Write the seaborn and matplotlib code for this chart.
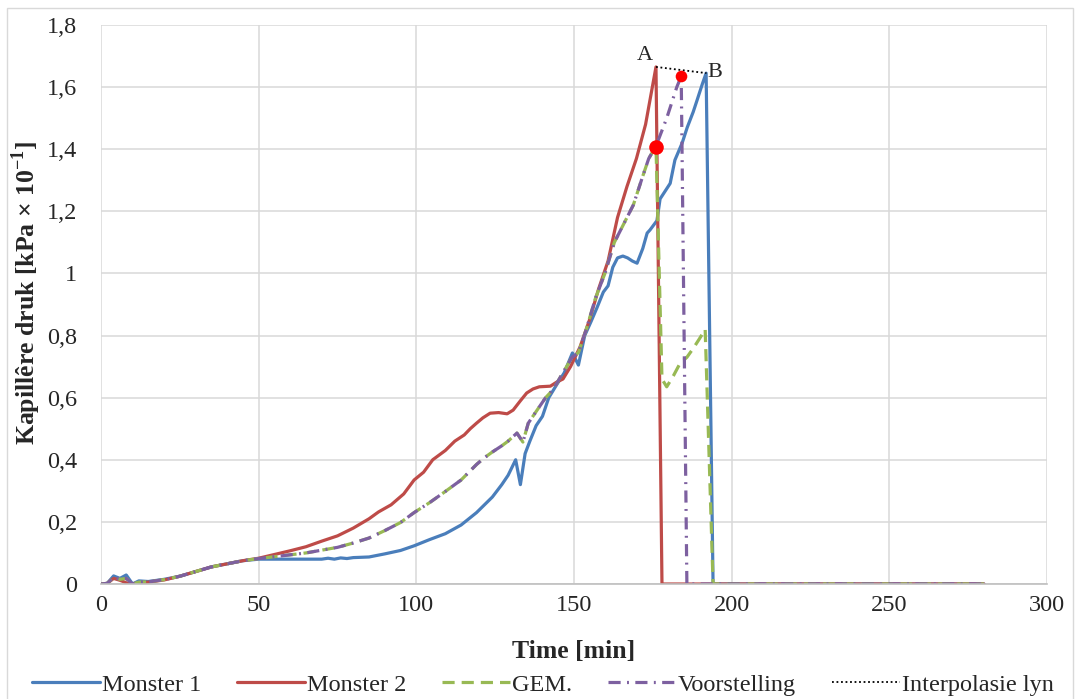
import matplotlib
matplotlib.use("Agg")
import matplotlib.pyplot as plt
import matplotlib.ticker as mticker
from matplotlib.patches import Rectangle
import seaborn as sns
import pandas as pd

# Monster 1 (blue)
t_m1 = [0, 2, 4, 6, 8, 10, 12, 15, 20, 25, 30, 35, 40, 45, 50, 55, 60, 65, 70, 72, 74,
        76, 78, 80, 85, 90, 95, 99.3, 104.2, 109.2, 114.2, 119.1, 124.1, 127.1, 129.1,
        131.5, 133, 134.5, 136, 138, 140, 142, 144.4, 146.9, 149.5, 151.4, 153.4, 155.4,
        157.3, 159.3, 160.8, 162.3, 163.8, 165.5, 167, 168.5, 170, 171.8, 173.2, 174.1,
        176.3, 177.3, 180.5, 182, 184.3, 185.9, 187.8, 189.1, 190.7, 191.9, 194.1, 280]
y_m1 = [0, 0.002, 0.026, 0.018, 0.029, 0.0, 0.01, 0.008, 0.015, 0.025, 0.04, 0.055,
        0.065, 0.075, 0.08, 0.08, 0.08, 0.08, 0.08, 0.083, 0.08, 0.084, 0.082, 0.085,
        0.087, 0.097, 0.108, 0.123, 0.143, 0.162, 0.19, 0.23, 0.28, 0.32, 0.35, 0.40,
        0.32, 0.42, 0.46, 0.51, 0.54, 0.6, 0.64, 0.68, 0.744, 0.705, 0.8, 0.845, 0.89,
        0.94, 0.96, 1.02, 1.05, 1.056, 1.05, 1.04, 1.033, 1.08, 1.13, 1.14, 1.17, 1.24,
        1.29, 1.365, 1.42, 1.47, 1.52, 1.56, 1.61, 1.645, 0.0, 0.0]

# Monster 2 (red)
t_m2 = [0, 2, 4, 6, 9, 12, 15, 20, 25, 30, 35, 40, 45, 50, 55, 60, 65, 70, 75, 80, 85,
        88, 92, 96, 99.3, 102.3, 105.2, 109.2, 112.2, 115.2, 117.1, 119.1, 121.1, 123.4,
        126.1, 128.8, 130.7, 133, 135, 137, 139, 142.5, 144.5, 146.5, 148.9, 151.9,
        154.9, 157.8, 160.8, 163.8, 166.8, 169.8, 172.7, 176.0, 177.9, 280]
y_m2 = [0, 0.002, 0.018, 0.012, 0.0, 0.003, 0.006, 0.013, 0.025, 0.04, 0.055, 0.065,
        0.075, 0.083, 0.095, 0.107, 0.12, 0.138, 0.155, 0.18, 0.21, 0.232, 0.255, 0.29,
        0.335, 0.36, 0.4, 0.43, 0.46, 0.48, 0.5, 0.518, 0.535, 0.55, 0.552, 0.548, 0.56,
        0.59, 0.615, 0.628, 0.635, 0.637, 0.65, 0.66, 0.7, 0.763, 0.85, 0.95, 1.04,
        1.18, 1.28, 1.37, 1.48, 1.665, 0.0, 0.0]

# GEM. (green dashed)
t_gem = [0, 2, 4, 6, 8, 10, 12, 15, 20, 25, 30, 35, 40, 45, 50, 55, 60, 65, 70, 75, 80,
         85, 90, 95, 99.3, 104.2, 109.2, 114.2, 119.1, 121.5, 124.1, 127.1, 129.1, 131.9,
         133.8, 135.5, 138.3, 141, 143.3, 145.9, 149.4, 151.4, 153.9, 156.8, 159.8, 162.8,
         165.8, 168.8, 171.7, 173.7, 176.0, 177.9, 179.4, 181.5, 183.6, 185.8, 187.9,
         189.8, 191.6, 194.1, 280]
y_gem = [0, 0.002, 0.022, 0.015, 0.018, 0.0, 0.006, 0.007, 0.014, 0.025, 0.04, 0.055,
         0.065, 0.075, 0.082, 0.088, 0.094, 0.1, 0.109, 0.118, 0.132, 0.148, 0.172,
         0.198, 0.23, 0.262, 0.298, 0.335, 0.385, 0.406, 0.425, 0.445, 0.46, 0.486,
         0.457, 0.518, 0.56, 0.6, 0.625, 0.67, 0.73, 0.745, 0.82, 0.92, 1.0, 1.1, 1.16,
         1.22, 1.31, 1.37, 1.41, 0.66, 0.635, 0.67, 0.71, 0.73, 0.76, 0.79, 0.82, 0.0, 0.0]

# Voorstelling (purple dash-dot)
t_voor = [0, 2, 4, 6, 8, 10, 12, 15, 20, 25, 30, 35, 40, 45, 50, 55, 60, 65, 70, 75, 80,
          85, 90, 95, 99.3, 104.2, 109.2, 114.2, 119.1, 121.5, 124.1, 127.1, 129.1, 131.9,
          133.8, 135.5, 138.3, 141, 143.3, 145.9, 149.4, 151.4, 153.9, 156.8, 159.8,
          162.8, 165.8, 168.8, 171.7, 173.7, 176.0, 179.4, 181.0, 182.6, 184.0, 185.8, 280]
y_voor = [0, 0.002, 0.022, 0.015, 0.018, 0.0, 0.006, 0.007, 0.014, 0.025, 0.04, 0.055,
          0.065, 0.075, 0.082, 0.088, 0.094, 0.1, 0.109, 0.118, 0.132, 0.148, 0.172,
          0.198, 0.23, 0.262, 0.298, 0.335, 0.385, 0.406, 0.425, 0.445, 0.46, 0.486,
          0.457, 0.518, 0.56, 0.6, 0.625, 0.67, 0.73, 0.745, 0.82, 0.92, 1.0, 1.1, 1.16,
          1.22, 1.31, 1.37, 1.41, 1.5, 1.55, 1.6, 1.635, 0.0, 0.0]

# Interpolasie lyn (A -> B)
t_interp = [176.0, 192.0]
y_interp = [1.665, 1.645]
labels_interp = ["A", "B"]

# red marker points
t_dots = [176.0, 184.0]
y_dots = [1.407, 1.635]

sns.set_style("white")
plt.rcParams["font.family"] = ["Liberation Serif", "DejaVu Serif"]
plt.rcParams["mathtext.fontset"] = "custom"
plt.rcParams["mathtext.rm"] = "Liberation Serif"
plt.rcParams["mathtext.bf"] = "Liberation Serif:bold"

fig = plt.figure(figsize=(10.75, 6.99), dpi=100)
ax = fig.add_axes([101 / 1075, 1 - 584 / 699, (1047 - 101) / 1075, (584 - 25) / 699])

blue = "#4A7EBB"
red = "#BE4B48"
green = "#98B954"
purple = "#7D60A0"
lw = 2.3

sns.lineplot(x=t_m1, y=y_m1, ax=ax, sort=False, estimator=None, color=blue,
             lw=lw, label="Monster 1")
sns.lineplot(x=t_m2, y=y_m2, ax=ax, sort=False, estimator=None, color=red,
             lw=lw, label="Monster 2")
sns.lineplot(x=t_gem, y=y_gem, ax=ax, sort=False, estimator=None, color=green,
             lw=lw, label="GEM.", linestyle=(0, (3.8, 2.2)))
sns.lineplot(x=t_voor, y=y_voor, ax=ax, sort=False, estimator=None, color=purple,
             lw=lw, label="Voorstelling", linestyle=(0, (3.8, 2.0, 0.6, 2.0)))
sns.lineplot(x=t_interp, y=y_interp, ax=ax, sort=False, estimator=None, color="black",
             lw=1.3, label="Interpolasie lyn", linestyle=(0, (1, 1.5)))
ax.scatter(t_dots[:1], y_dots[:1], s=110, color="#FF0000", zorder=5, linewidths=0)
ax.scatter(t_dots[1:], y_dots[1:], s=70, color="#FF0000", zorder=5, linewidths=0)

ax.text(t_interp[0] - 1.0, y_interp[0] + 0.005, labels_interp[0], fontsize=16,
        ha="right", va="bottom")
ax.text(t_interp[1] + 0.3, y_interp[1] - 0.03, labels_interp[1], fontsize=16,
        ha="left", va="bottom")

ax.set_xlim(0, 300)
ax.set_ylim(0, 1.8)
ax.set_xticks(range(0, 301, 50))
ax.set_yticks([i * 0.2 for i in range(10)])
ax.yaxis.set_major_formatter(mticker.FuncFormatter(
    lambda v, p: f"{round(v, 1):g}".replace(".", ",")))
ax.grid(True, color="#D9D9D9", lw=1.1)
ax.set_axisbelow(True)
for side in ["top", "right", "left"]:
    ax.spines[side].set_visible(False)
ax.spines["bottom"].set_color("#BFBFBF")
ax.spines["bottom"].set_linewidth(1.2)
ax.tick_params(axis="x", length=0, pad=8, labelsize=17.5)
ax.tick_params(axis="y", length=0, pad=17, labelsize=17.5)

ax.set_xlabel("Time [min]", fontsize=18.5, fontweight="bold", labelpad=17)
ax.set_ylabel(r"Kapillêre druk [kPa × 10$^{\mathbf{-1}}$]", fontsize=18.5,
              fontweight="bold", labelpad=3, y=0.52)

ax.legend(loc="lower center", bbox_to_anchor=(0.505, -0.009), bbox_transform=fig.transFigure,
          ncol=5, frameon=False, fontsize=17.5, handlelength=2.8, handletextpad=0.1,
          columnspacing=1.45, borderaxespad=0)

fig.patches.append(Rectangle((7 / 1075, -0.01), 1066 / 1075, 1 - 8 / 699 + 0.01,
                             transform=fig.transFigure, fill=False,
                             edgecolor="#D9D9D9", lw=1))

fig.savefig("out.png", dpi=100)
